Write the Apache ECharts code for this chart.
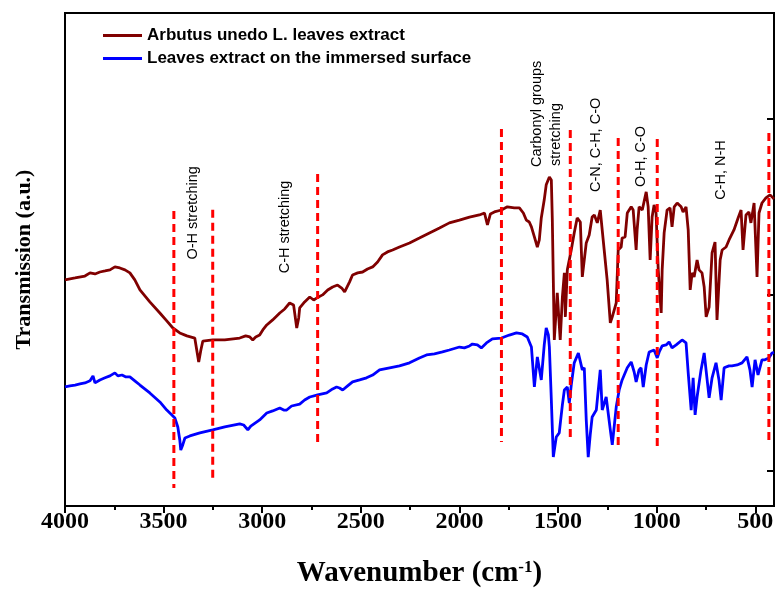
<!DOCTYPE html>
<html>
<head>
<meta charset="utf-8">
<script src="https://cdn.jsdelivr.net/npm/echarts@6/dist/echarts.min.js"></script>
<style>
  html, body { margin: 0; padding: 0; background: #fff; }
  #chart { width: 776px; height: 589px; }
</style>
</head>
<body>
<div id="chart"></div>
<script>
// FTIR spectra: [wavenumber (cm-1), transmission (a.u.)]
const leavesExtract = [
  [4000,108.4],[3949,109.5],[3899,110.6],[3873,112.4],[3848,111.8],[3823,112.9],[3797,113.5],[3772,114.1],
  [3747,115.8],[3722,115.2],[3696,114.1],[3671,112.4],[3646,108.4],[3620,102.7],[3570,95.9],[3519,89.6],
  [3484,85.1],[3453,81.1],[3418,78.3],[3382,76.6],[3342,75.4],[3332,74.3],[3322,61.8],[3311,68.6],
  [3301,73.7],[3251,74.3],[3190,74.3],[3114,75.4],[3084,76.6],[3063,76.0],[3048,74.3],[3033,76.0],
  [3013,77.1],[2997,80.0],[2977,82.8],[2947,85.7],[2911,89.6],[2886,91.9],[2861,95.3],[2841,94.2],
  [2825,81.1],[2815,86.8],[2810,92.5],[2785,95.9],[2759,98.7],[2739,97.0],[2724,98.1],[2694,99.9],
  [2668,102.7],[2643,104.4],[2618,105.5],[2597,103.8],[2582,101.6],[2557,107.3],[2542,111.2],[2516,112.4],
  [2491,112.9],[2466,114.6],[2440,115.8],[2415,118.6],[2390,122.6],[2365,124.3],[2339,125.4],[2304,127.1],
  [2253,129.4],[2203,132.2],[2152,135.1],[2101,137.9],[2051,140.8],[2000,142.4],[1949,144.1],[1899,145.3],
  [1873,146.4],[1858,139.6],[1843,145.9],[1823,147.0],[1787,148.1],[1757,149.9],[1722,149.3],[1696,149.3],
  [1676,146.4],[1661,142.4],[1646,141.3],[1635,138.5],[1620,132.8],[1605,127.1],[1595,131.1],[1585,143.6],
  [1570,153.9],[1560,162.4],[1544,166.9],[1534,165.2],[1529,142.4],[1519,74.3],[1504,101.0],[1489,74.3],
  [1478,98.7],[1468,112.4],[1463,87.4],[1453,114.1],[1433,125.4],[1418,135.1],[1403,143.6],[1387,141.3],
  [1377,110.1],[1357,129.4],[1342,133.9],[1327,144.1],[1316,145.3],[1301,140.8],[1286,148.1],[1276,147.0],
  [1266,125.4],[1251,108.4],[1235,84.0],[1225,87.4],[1205,95.3],[1195,125.4],[1180,127.1],[1175,132.2],
  [1160,132.8],[1149,146.4],[1129,149.9],[1119,148.1],[1104,125.4],[1099,136.8],[1089,149.9],[1073,148.1],
  [1053,158.4],[1043,149.9],[1033,119.7],[1023,144.1],[1013,151.0],[1003,146.4],[992,114.1],[977,89.6],
  [972,114.1],[962,135.1],[947,148.1],[932,149.3],[922,138.5],[911,149.9],[896,152.1],[876,149.9],
  [866,147.0],[851,149.9],[840,136.8],[830,102.7],[820,112.4],[810,110.1],[795,119.7],[785,114.1],
  [770,112.4],[759,104.4],[749,87.4],[734,93.0],[719,123.7],[704,129.9],[694,85.7],[678,119.7],
  [668,125.4],[648,127.1],[633,131.1],[608,136.8],[587,143.6],[572,148.1],[562,125.4],[547,145.3],
  [532,147.0],[522,140.8],[506,152.1],[491,110.1],[481,146.4],[466,152.1],[446,155.0],[425,156.7],
  [410,155.0],[405,154.4]
];

const immersedSurface = [
  [4000,47.6],[3975,48.2],[3949,48.7],[3924,49.3],[3899,49.9],[3873,51.1],[3858,53.9],[3848,49.9],
  [3823,51.6],[3797,52.8],[3772,53.9],[3747,55.6],[3732,53.9],[3711,54.4],[3691,53.3],[3671,53.3],
  [3646,51.1],[3620,48.7],[3570,44.2],[3519,39.1],[3484,34.5],[3458,31.7],[3443,30.0],[3428,24.9],
  [3418,17.5],[3413,11.8],[3403,14.7],[3392,18.6],[3367,19.8],[3316,21.5],[3251,23.2],[3190,24.9],
  [3114,26.6],[3094,26.0],[3073,23.2],[3058,25.4],[3048,26.0],[3013,28.9],[2977,32.8],[2947,34.0],
  [2911,35.7],[2891,34.5],[2876,34.5],[2851,36.8],[2810,37.9],[2785,40.2],[2759,41.9],[2719,43.1],
  [2673,44.2],[2643,46.5],[2623,47.6],[2608,47.0],[2592,45.9],[2567,48.2],[2542,50.5],[2506,51.6],
  [2471,52.8],[2440,54.4],[2405,57.3],[2354,58.5],[2304,59.6],[2253,61.3],[2203,64.1],[2167,65.8],
  [2127,66.4],[2086,67.5],[2051,68.6],[2000,70.3],[1975,69.8],[1949,70.9],[1934,72.0],[1909,71.5],
  [1889,69.8],[1863,72.6],[1833,74.9],[1787,75.4],[1747,77.1],[1711,78.3],[1681,77.7],[1656,76.0],
  [1635,70.3],[1620,47.6],[1605,64.7],[1585,51.6],[1570,71.5],[1560,81.1],[1549,77.1],[1544,70.3],
  [1534,40.2],[1524,7.8],[1509,19.2],[1494,21.5],[1478,37.4],[1468,45.9],[1453,47.6],[1443,38.5],
  [1433,48.7],[1418,61.3],[1397,66.9],[1377,57.3],[1367,58.5],[1357,28.9],[1347,7.8],[1337,20.3],
  [1327,30.6],[1306,34.5],[1286,57.3],[1276,34.5],[1256,41.9],[1235,23.2],[1225,14.7],[1205,36.2],
  [1190,45.9],[1175,51.6],[1149,58.5],[1129,61.8],[1114,56.1],[1104,50.5],[1089,57.3],[1079,58.5],
  [1068,47.6],[1053,60.1],[1038,67.5],[1013,68.6],[1003,68.6],[997,64.1],[987,67.5],[972,70.9],
  [952,71.5],[937,73.2],[922,69.8],[901,71.5],[871,74.3],[851,72.6],[840,55.6],[825,34.5],
  [815,52.8],[805,31.7],[795,41.9],[775,57.3],[759,66.9],[744,51.6],[734,41.4],[719,52.8],
  [699,61.3],[684,51.6],[673,40.2],[658,58.5],[633,59.6],[618,59.6],[592,60.1],[567,61.3],
  [542,64.7],[527,57.3],[516,47.6],[501,63.0],[486,54.4],[466,63.0],[451,63.0],[431,64.1],
  [415,66.9],[405,67.3]
];

// Band markers: wavenumber and vertical extent (a.u.)
const bandWavenumbers = [3448, 3251, 2719, 1787, 1438, 1195, 997, 431];
const bandTop    = [147.6, 148.2, 168.6, 194.1, 193.6, 189.0, 188.5, 191.9];
const bandBottom = [-9.8, -4.7, 14.7, 16.4, 16.9, 13.0, 12.5, 15.2];

// Band assignments (text, wavenumber of text centre, transmission of text centre)
const noteTexts = ['O-H stretching', 'C-H stretching', 'Carbonyl groups', 'stretching',
                   'C-N, C-H, C-O', 'O-H, C-O', 'C-H, N-H'];
const noteWavenumbers = [3352, 2886, 1605, 1509, 1306, 1078, 673];
const noteLevels = [146.5, 138.5, 202.7, 191.0, 185.1, 178.5, 170.8];

const xMajorTicks = [500, 1000, 1500, 2000, 2500, 3000, 3500, 4000];
const xMinorTicks = [750, 1250, 1750, 2250, 2750, 3250, 3750];
const yTicks = [0, 100, 200];

const seriesNames = ['Arbutus unedo L. leaves extract', 'Leaves extract on the immersed surface'];

const chart = echarts.init(document.getElementById('chart'));

const X_MIN = 405, X_MAX = 4000, Y_MIN = -20, Y_MAX = 260;
const serif = '"Liberation Serif", "Times New Roman", serif';
const sans = '"Liberation Sans", Arial, sans-serif';

const bandSeries = bandWavenumbers.map((wn, i) => ({
  type: 'line',
  silent: true,
  symbol: 'none',
  z: 5,
  data: [[wn, bandTop[i]], [wn, bandBottom[i]]],
  lineStyle: { color: '#ff0000', width: 3, type: [8, 5] }
}));

chart.setOption({
  animation: false,
  backgroundColor: '#fff',
  grid: {
    left: 65, right: 2, top: 13, bottom: 83,
    outerBoundsMode: 'none',
    containLabel: false,
    show: true, borderColor: '#000', borderWidth: 2, backgroundColor: 'transparent'
  },
  legend: {
    data: seriesNames,
    orient: 'vertical',
    left: 98, top: 22,
    itemGap: 6,
    icon: 'rect',
    itemWidth: 39, itemHeight: 3,
    textStyle: { fontFamily: sans, fontWeight: 'bold', fontSize: 17, color: '#000' }
  },
  xAxis: [{
    type: 'value', inverse: true, min: X_MIN, max: X_MAX,
    name: 'Wavenumber (cm{sup|-1})',
    nameLocation: 'middle', nameGap: 53,
    nameTextStyle: {
      fontFamily: serif, fontWeight: 'bold', fontSize: 29, color: '#000',
      rich: { sup: { fontFamily: serif, fontWeight: 'bold', fontSize: 17, verticalAlign: 'top', color: '#000' } }
    },
    axisLine: { show: true, onZero: false, lineStyle: { color: '#000', width: 2 } },
    axisTick: { show: true, length: 7, customValues: xMajorTicks, lineStyle: { color: '#000', width: 2 } },
    axisLabel: {
      customValues: xMajorTicks, margin: 4,
      formatter: v => String(v),
      fontFamily: serif, fontWeight: 'bold', fontSize: 24, color: '#000'
    },
    splitLine: { show: false }
  }, {
    type: 'value', inverse: true, min: X_MIN, max: X_MAX, position: 'bottom',
    axisLine: { show: false, onZero: false },
    axisTick: { show: true, length: 4, customValues: xMinorTicks, lineStyle: { color: '#000', width: 2 } },
    axisLabel: { show: false },
    splitLine: { show: false }
  }],
  yAxis: [{
    type: 'value', min: Y_MIN, max: Y_MAX,
    name: 'Transmission (a.u.)',
    nameLocation: 'middle', nameGap: 30,
    nameTextStyle: { fontFamily: serif, fontWeight: 'bold', fontSize: 22, color: '#000' },
    axisLine: { show: true, onZero: false, lineStyle: { color: '#000', width: 2 } },
    axisTick: { show: false },
    axisLabel: { show: false },
    splitLine: { show: false }
  }, {
    type: 'value', min: Y_MIN, max: Y_MAX, position: 'right',
    axisLine: { show: true, onZero: false, lineStyle: { color: '#000', width: 2 } },
    axisTick: { show: true, inside: true, length: 7, customValues: yTicks, lineStyle: { color: '#000', width: 2 } },
    axisLabel: { show: false },
    splitLine: { show: false }
  }],
  series: [{
    name: seriesNames[0], type: 'line', symbol: 'none', z: 3,
    data: leavesExtract,
    color: '#800000',
    lineStyle: { color: '#800000', width: 2.8 }
  }, {
    name: seriesNames[1], type: 'line', symbol: 'none', z: 3,
    data: immersedSurface,
    color: '#0000ff',
    lineStyle: { color: '#0000ff', width: 2.8 }
  }].concat(bandSeries)
});

// Rotated band-assignment labels placed through the axes
const notes = noteTexts.map((t, i) => {
  const p = chart.convertToPixel({ xAxisIndex: 0, yAxisIndex: 0 }, [noteWavenumbers[i], noteLevels[i]]);
  return {
    type: 'text',
    x: p[0], y: p[1],
    rotation: Math.PI / 2,
    z: 10,
    style: {
      text: t, align: 'center', verticalAlign: 'middle',
      font: '14.5px ' + sans, fill: '#000'
    }
  };
});
chart.setOption({ graphic: notes });
</script>
</body>
</html>
